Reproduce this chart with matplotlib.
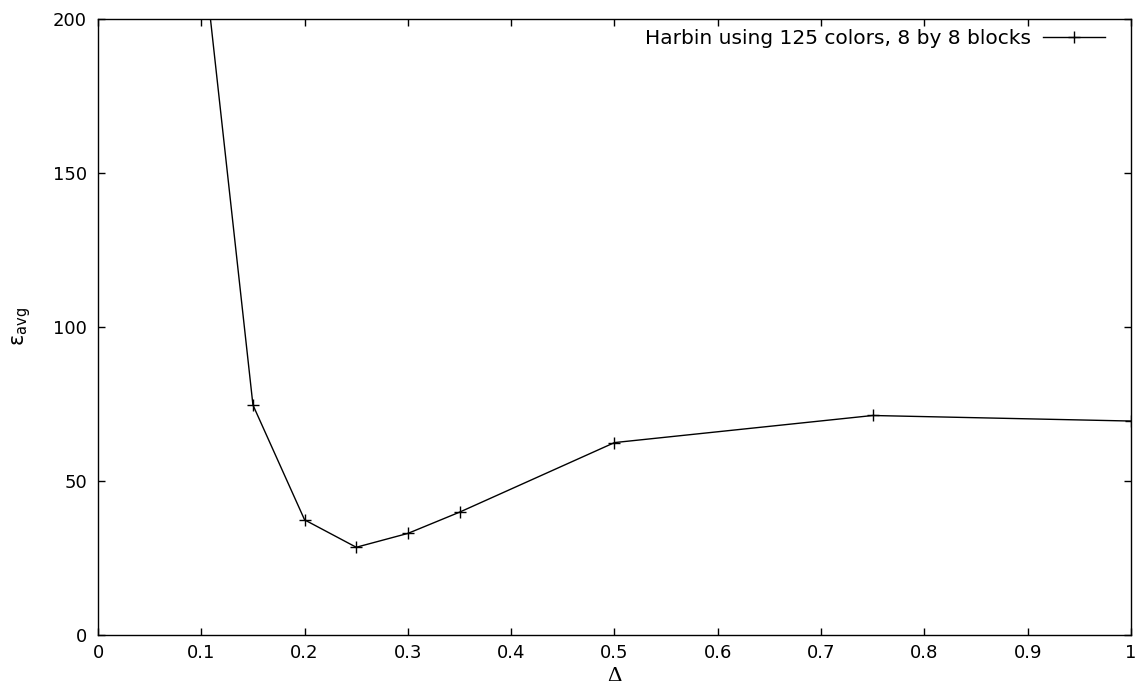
import matplotlib
matplotlib.use("Agg")
import matplotlib.pyplot as plt

# data (first point lies above the plot window)
delta = [0.1, 0.15, 0.2, 0.25, 0.3, 0.35, 0.5, 0.75, 1.0]
eps_avg = [227, 74.6, 37.3, 28.4, 32.9, 39.8, 62.4, 71.2, 69.4]
x_ticks = [0, 0.1, 0.2, 0.3, 0.4, 0.5, 0.6, 0.7, 0.8, 0.9, 1]
x_tick_labels = ["0", "0.1", "0.2", "0.3", "0.4", "0.5", "0.6", "0.7", "0.8", "0.9", "1"]
y_ticks = [0, 50, 100, 150, 200]

plt.rcParams["font.family"] = "DejaVu Sans"
plt.rcParams["mathtext.fontset"] = "dejavusans"

fig = plt.figure(figsize=(11.37, 6.96), dpi=100)
ax = fig.add_axes([0.0862, 0.0881, 0.9085, 0.8846])

ax.plot(delta, eps_avg, color="black", linewidth=1.0, marker="+",
        markersize=8, markeredgewidth=1.0,
        label="Harbin using 125 colors, 8 by 8 blocks")

ax.set_xlim(0, 1)
ax.set_ylim(0, 200)
ax.set_xticks(x_ticks)
ax.set_xticklabels(x_tick_labels)
ax.set_yticks(y_ticks)
ax.tick_params(direction="in", length=5, width=1, top=True, right=True,
               labelsize=13, pad=8)
ax.tick_params(axis="x", pad=7)
for s in ax.spines.values():
    s.set_linewidth(1.0)

ax.set_xlabel("Δ", family="Liberation Serif", fontsize=16, labelpad=3)
ax.set_ylabel(r"ε$_{\mathrm{avg}}$", fontsize=15, labelpad=14)

ax.legend(loc="upper right", bbox_to_anchor=(0.975, 0.983), frameon=False,
          markerfirst=False, handlelength=3.1, handletextpad=0.6,
          fontsize=14.5, borderaxespad=0.0, borderpad=0.0)

plt.savefig("out.png", dpi=100)
